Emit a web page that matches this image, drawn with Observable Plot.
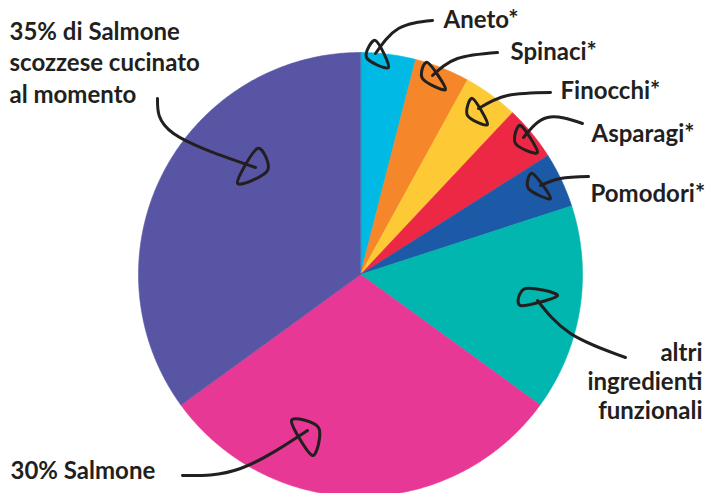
<!DOCTYPE html>
<html>
<head>
<meta charset="utf-8">
<script src="https://cdn.jsdelivr.net/npm/d3@7"></script>
<script src="https://cdn.jsdelivr.net/npm/@observablehq/plot@0.6"></script>
<style>
  html, body { margin: 0; padding: 0; background: #fff; }
  #chart svg { display: block; }
</style>
</head>
<body>
<div id="chart"></div>
<script>
// ---- data ----
const categories = ["Aneto*", "Spinaci*", "Finocchi*", "Asparagi*", "Pomodori*",
  "altri ingredienti funzionali", "30% Salmone", "35% di Salmone scozzese cucinato al momento"];
const shares = [4, 4, 4, 4, 4, 15, 30, 35];
const colors = ["#00b9e4", "#f5862a", "#fdca35", "#ec2845", "#1c5aa7", "#00b6ae", "#e63894", "#5856a4"];

// ---- label / annotation layout (pixel space) ----
const labels = [
  {text: "Aneto*", x: 443, y: 20, anchor: "start", lh: 1},
  {text: "Spinaci*", x: 510, y: 52, anchor: "start", lh: 1},
  {text: "Finocchi*", x: 560, y: 91, anchor: "start", lh: 1},
  {text: "Asparagi*", x: 591, y: 134, anchor: "start", lh: 1},
  {text: "Pomodori*", x: 590, y: 194, anchor: "start", lh: 1},
  {text: "altri\ningredienti\nfunzionali", x: 702, y: 380, anchor: "end", lh: 1.2},
  {text: "30% Salmone", x: 10, y: 471, anchor: "start", lh: 1},
  {text: "35% di Salmone\nscozzese cucinato\nal momento", x: 9, y: 61, anchor: "start", lh: 1.3}
];
const arrows = [
  {path: [[432,20],[398,28],[375,53]], head: [[375,40],[366,57],[388,67]]},
  {path: [[497,52],[457,58],[432,75]], head: [[427,62],[422,78],[445,89]]},
  {path: [[550,92],[507,95],[478,108]], head: [[472,98],[467,115],[487,124]]},
  {path: [[582,123],[547,117],[523,137]], head: [[520,125],[515,143],[537,152]]},
  {path: [[588,176],[560,178],[540,185]], head: [[532,173],[528,188],[550,198]]},
  {path: [[625,357],[570,333],[537,300]], head: [[525,288],[557,295],[520,305]]},
  {path: [[182,475],[240,468],[307,430]], head: [[291,420],[318,427],[312,455]]},
  {path: [[157,98],[173,133],[255,167]], head: [[257,148],[267,170],[237,183]]}
];

// ---- geometry ----
const W = 710, H = 493;
const cx = 360, cy = 274, R = 222;
const pie = d3.pie().sort(null).value(d => d)(shares);
const slices = pie.map((p, i) => {
  const pts = [{x: cx, y: cy}];
  const n = Math.max(2, Math.ceil((p.endAngle - p.startAngle) / (Math.PI / 360)));
  for (let k = 0; k <= n; k++) {
    const a = p.startAngle + (p.endAngle - p.startAngle) * k / n;
    pts.push({x: cx + R * Math.sin(a), y: cy - R * Math.cos(a)});
  }
  return {pts, color: colors[i]};
});

const ink = "#231f20";
const marks = [];
slices.forEach(s => {
  marks.push(Plot.line(s.pts, {x: "x", y: "y", fill: s.color, stroke: s.color, strokeWidth: 0.6, curve: "linear-closed"}));
});
arrows.forEach(a => {
  marks.push(Plot.line(a.path, {x: d => d[0], y: d => d[1], stroke: ink, strokeWidth: 3, curve: "natural", strokeLinecap: "round"}));
  marks.push(Plot.line(a.head, {x: d => d[0], y: d => d[1], stroke: ink, strokeWidth: 3, curve: "cardinal-closed", strokeLinejoin: "round"}));
});
labels.forEach(l => {
  marks.push(Plot.text([l], {x: "x", y: "y", text: "text", textAnchor: l.anchor, lineAnchor: "middle",
    lineHeight: l.lh, fontSize: 24, fontWeight: 700, fill: ink, fontFamily: "Lato, 'Open Sans', sans-serif"}));
});

const chart = Plot.plot({
  width: W, height: H,
  margin: 0,
  x: {domain: [0, W], range: [0, W], axis: null},
  y: {domain: [0, H], range: [0, H], axis: null},
  style: {background: "#fff", overflow: "visible"},
  marks
});
document.getElementById("chart").appendChild(chart);
</script>
</body>
</html>
